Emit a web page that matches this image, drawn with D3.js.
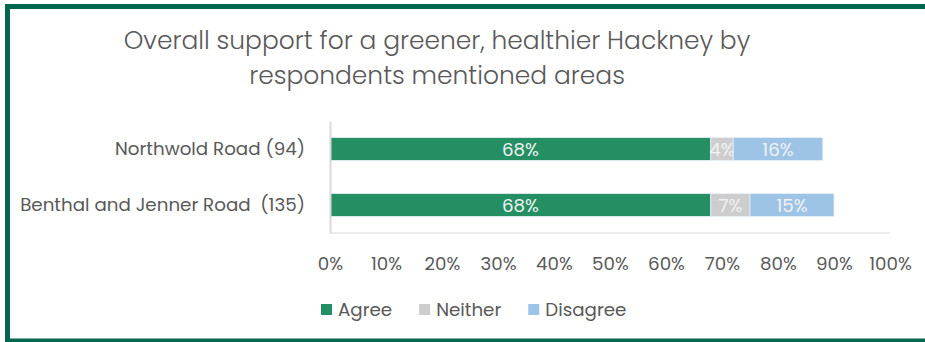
<!DOCTYPE html>
<html>
<head>
<meta charset="utf-8">
<script src="https://cdn.jsdelivr.net/npm/d3@7/dist/d3.min.js"></script>
<style>
  html, body { margin: 0; padding: 0; background: #ffffff; }
  svg { display: block; }
  text { font-family: Poppins, "Open Sans", "Noto Sans", sans-serif; }
</style>
</head>
<body>
<svg id="chart" width="925" height="342"></svg>
<script>
// Survey responses by area (percent of respondents)
const categories = ["Northwold Road (94)", "Benthal and Jenner Road  (135)"];
const seriesNames = ["Agree", "Neither", "Disagree"];
const agree = [68, 68];
const neither = [4, 7];
const disagree = [16, 15];
const xTickValues = [0, 10, 20, 30, 40, 50, 60, 70, 80, 90, 100];
const titleLines = ["Overall support for a greener, healthier Hackney by", "respondents mentioned areas"];

const colors = { Agree: "#238f62", Neither: "#cdcdcd", Disagree: "#9dc3e6" };
const textGrey = "#595959";

const svg = d3.select("#chart");
const W = 925, H = 342;

// Frame around the panel
const frame = svg.append("g").attr("stroke", "#02664e").attr("fill", "none");
frame.append("line").attr("x1", 5).attr("x2", W).attr("y1", 6.5).attr("y2", 6.5).attr("stroke-width", 5);
frame.append("line").attr("x1", 7.5).attr("x2", 7.5).attr("y1", 4).attr("y2", H).attr("stroke-width", 5);
frame.append("line").attr("x1", 5).attr("x2", W).attr("y1", 340.5).attr("y2", 340.5).attr("stroke-width", 4);

// Helper: scale a text's font size so it spans the given width
function fitSize(str, base, target, weight) {
  const t = svg.append("text").attr("font-size", base).attr("font-weight", weight || 400)
    .style("white-space", "pre").text(str);
  const w = t.node().getComputedTextLength();
  t.remove();
  return base * target / w;
}

const labelSize = fitSize(categories[1], 16, 285, 400);
const titleSize = fitSize(titleLines[0], 22, 627, 300);

// Title
svg.append("g").selectAll("text").data(titleLines).join("text")
  .attr("x", 437)
  .attr("y", (d, i) => 40 + i * 35)
  .attr("dy", "0.35em")
  .attr("text-anchor", "middle")
  .attr("font-size", titleSize)
  .attr("font-weight", 300)
  .attr("fill", textGrey)
  .text(d => d);

// Scales
const x = d3.scaleLinear().domain([0, 100]).range([330, 890]);
const y = d3.scaleBand().domain(categories).range([121, 233]).paddingInner(0.59).paddingOuter(0.295);

// Stacked data
const rows = categories.map((c, i) => ({ category: c, Agree: agree[i], Neither: neither[i], Disagree: disagree[i] }));
const stacked = d3.stack().keys(seriesNames)(rows);

// Bars
const layers = svg.append("g").selectAll("g").data(stacked).join("g")
  .attr("fill", d => colors[d.key]);

layers.selectAll("rect").data(d => d).join("rect")
  .attr("x", d => x(d[0]))
  .attr("y", d => y(d.data.category))
  .attr("width", d => x(d[1]) - x(d[0]))
  .attr("height", y.bandwidth())
  .attr("stroke", "#e8f0f8")
  .attr("stroke-width", 0.8);

// Value labels inside segments
layers.selectAll("text").data(d => d.map(v => Object.assign({ key: d.key }, v))).join("text")
  .attr("x", d => (x(d[0]) + x(d[1])) / 2)
  .attr("y", d => y(d.data.category) + y.bandwidth() / 2)
  .attr("dy", "0.36em")
  .attr("text-anchor", "middle")
  .attr("font-size", labelSize)
  .attr("fill", "#f2f2f2")
  .text(d => (d[1] - d[0]) + "%");

// Horizontal baseline
svg.append("line")
  .attr("x1", x(0)).attr("x2", x(100))
  .attr("y1", 233).attr("y2", 233)
  .attr("stroke", "#d9d9d9").attr("stroke-width", 1);

// Category axis
const yAxis = svg.append("g")
  .attr("transform", `translate(${x(0)},0)`)
  .call(d3.axisLeft(y).tickSize(0).tickSizeOuter(0).tickPadding(25));
yAxis.select(".domain").attr("stroke", "#d9d9d9").attr("stroke-width", 2);
yAxis.selectAll("text")
  .attr("font-size", labelSize)
  .attr("fill", textGrey)
  .style("white-space", "pre")
  .attr("font-family", null);

// Percentage axis
const xAxis = svg.append("g")
  .attr("transform", "translate(0,233)")
  .call(d3.axisBottom(x).tickValues(xTickValues).tickFormat(d => d + "%").tickSize(0));
xAxis.select(".domain").remove();
xAxis.selectAll("text")
  .attr("y", 31)
  .attr("dy", "0.35em")
  .attr("font-size", labelSize)
  .attr("fill", textGrey)
  .attr("font-family", null);

// Legend
const legend = svg.append("g");
let lx = 321;
seriesNames.forEach(name => {
  const g = legend.append("g").attr("transform", `translate(${lx},0)`);
  g.append("rect").attr("x", 0).attr("y", 304).attr("width", 11).attr("height", 11).attr("fill", colors[name]);
  const t = g.append("text").attr("x", 17).attr("y", 309.5).attr("dy", "0.35em")
    .attr("font-size", labelSize).attr("fill", textGrey).text(name);
  lx += 17 + t.node().getComputedTextLength() + 27;
});
</script>
</body>
</html>
